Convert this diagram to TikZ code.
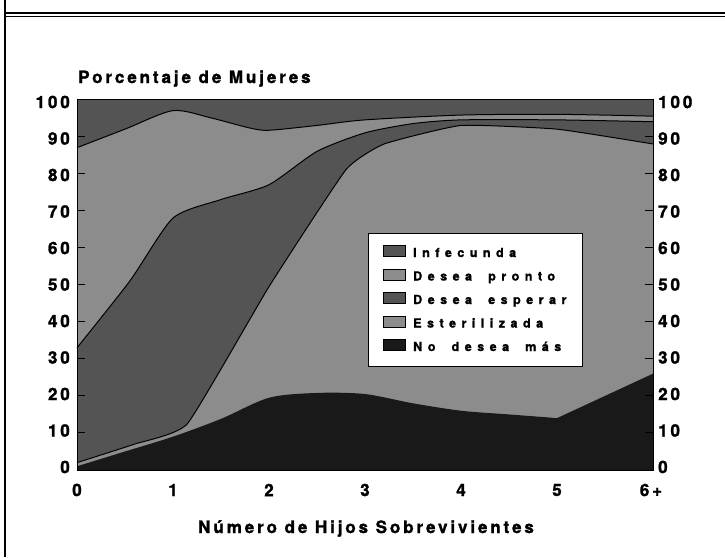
\documentclass[tikz,border=0pt]{standalone}
\usepackage{fontspec}
\setmainfont{TeX Gyre Heros}
\newfontfamily\axf{texgyreheros-bold.otf}[LetterSpace=17, FakeBold=1.5]
\newfontfamily\lgf{texgyreheros-bold.otf}[LetterSpace=44, FakeBold=1.5, WordSpace=1.8]
\definecolor{darkpat}{gray}{0.33}
\definecolor{lightpat}{gray}{0.55}
\definecolor{blackpat}{gray}{0.10}
\tikzset{
  lab/.style={font={\axf\fontsize{17}{20}\selectfont}, inner sep=0pt},
  legtext/.style={font={\lgf\fontsize{12.5}{15}\selectfont}, inner sep=0pt, anchor=base west},
  swatch/.style={draw=black, line width=0.8pt, minimum width=22pt, minimum height=11pt, inner sep=0pt},
  bound/.style={line width=1pt, black},
  frameline/.style={line width=1.5pt, black}
}
\begin{document}
\begin{tikzpicture}[x=1pt,y=-1pt]
\useasboundingbox (0,0) rectangle (725,557);
\fill[white] (0,0) rectangle (725,557);
% frame
\draw[frameline] (5,0) -- (5,557);
\draw[frameline] (5,13) -- (725,13);
\draw[line width=1.2pt] (5,16.5) -- (725,16.5);

\begin{scope}[shift={(77,470)}, x=96pt, y=3.705pt]
  % Infecunda (top layer)
  \fill[darkpat] (0,0) rectangle (6,100);
  % Desea pronto
  \fill[lightpat] plot[smooth,tension=0.45] coordinates {(0,87) (0.5,92) (1,97) (1.4,95) (1.8,92.3) (2,91.7) (2.5,93) (3,94.5) (4,95.8) (5,96) (6,95.5)} -- (6,0) -- (0,0) -- cycle;
  % Desea esperar
  \fill[darkpat] plot[smooth,tension=0.4] coordinates {(0,33) (0.55,51) (1,68) (1.5,73) (2,77) (2.5,86) (3,91) (3.5,93.5) (4,94.5) (5,94.5) (6,94)} -- (6,0) -- (0,0) -- cycle;
  % Esterilizada
  \fill[lightpat] plot[smooth,tension=0.25] coordinates {(0,2) (0.6,7) (1.15,12.5) (2,49.5) (2.8,81) (3.2,88) (4,93) (5,92) (6,88)} -- (6,0) -- (0,0) -- cycle;
  % No desea mas
  \fill[blackpat] plot[smooth,tension=0.5] coordinates {(0,1) (0.45,4.6) (1,9) (1.5,13.8) (2,19.5) (2.5,20.8) (3,20.5) (3.5,18) (4,16) (4.5,15) (5,14)} -- (6,26) -- (6,0) -- (0,0) -- cycle;
  % boundaries
  \draw[bound] plot[smooth,tension=0.45] coordinates {(0,87) (0.5,92) (1,97) (1.4,95) (1.8,92.3) (2,91.7) (2.5,93) (3,94.5) (4,95.8) (5,96) (6,95.5)};
  \draw[bound] plot[smooth,tension=0.4] coordinates {(0,33) (0.55,51) (1,68) (1.5,73) (2,77) (2.5,86) (3,91) (3.5,93.5) (4,94.5) (5,94.5) (6,94)};
  \draw[bound] plot[smooth,tension=0.25] coordinates {(0,2) (0.6,7) (1.15,12.5) (2,49.5) (2.8,81) (3.2,88) (4,93) (5,92) (6,88)};
  % plot outline
  \draw[line width=1pt] (0,0) rectangle (6,100);
  % ticks
  \foreach \v in {10,20,...,90} {
    \draw[line width=1pt] (0,\v) -- (0.085,\v);
    \draw[line width=1pt] (6,\v) -- (5.915,\v);
  }
\end{scope}

% y-axis labels
\foreach \v in {0,10,...,100} {
  \node[lab, anchor=east] (yl\v) at (70, {102+(100-\v)*3.65}) {\v};
  \node[lab, anchor=west] (yr\v) at (658, {102+(100-\v)*3.65}) {\v};
}
% x-axis labels
\foreach \i in {0,...,5} {
  \node[lab] (xl\i) at ({77+96*\i}, 490) {\i};
}
\node[lab] (xl6) at (651, 490) {6+};

% titles
\node[lab, anchor=base west] (ytitle) at (78,83) {Porcentaje de Mujeres};
\node[lab, anchor=base] (xtitle) at (366,533) {Número de Hijos Sobrevivientes};

% legend
\node[draw=black, fill=white, line width=1pt, minimum width=214pt, minimum height=133pt, inner sep=0pt, anchor=north west] (legend) at (368,233) {};
\node[swatch, fill=darkpat]  (sw1) at (394,251) {};
\node[swatch, fill=lightpat] (sw2) at (394,274.5) {};
\node[swatch, fill=darkpat]  (sw3) at (394,298) {};
\node[swatch, fill=lightpat] (sw4) at (394,321.5) {};
\node[swatch, fill=blackpat] (sw5) at (394,345) {};
\node[legtext] (lt1) at (413,257) {Infecunda};
\node[legtext] (lt2) at (413,280.5) {Desea pronto};
\node[legtext] (lt3) at (413,304) {Desea esperar};
\node[legtext] (lt4) at (413,327.5) {Esterilizada};
\node[legtext] (lt5) at (413,351) {No desea más};
\end{tikzpicture}
\end{document}
